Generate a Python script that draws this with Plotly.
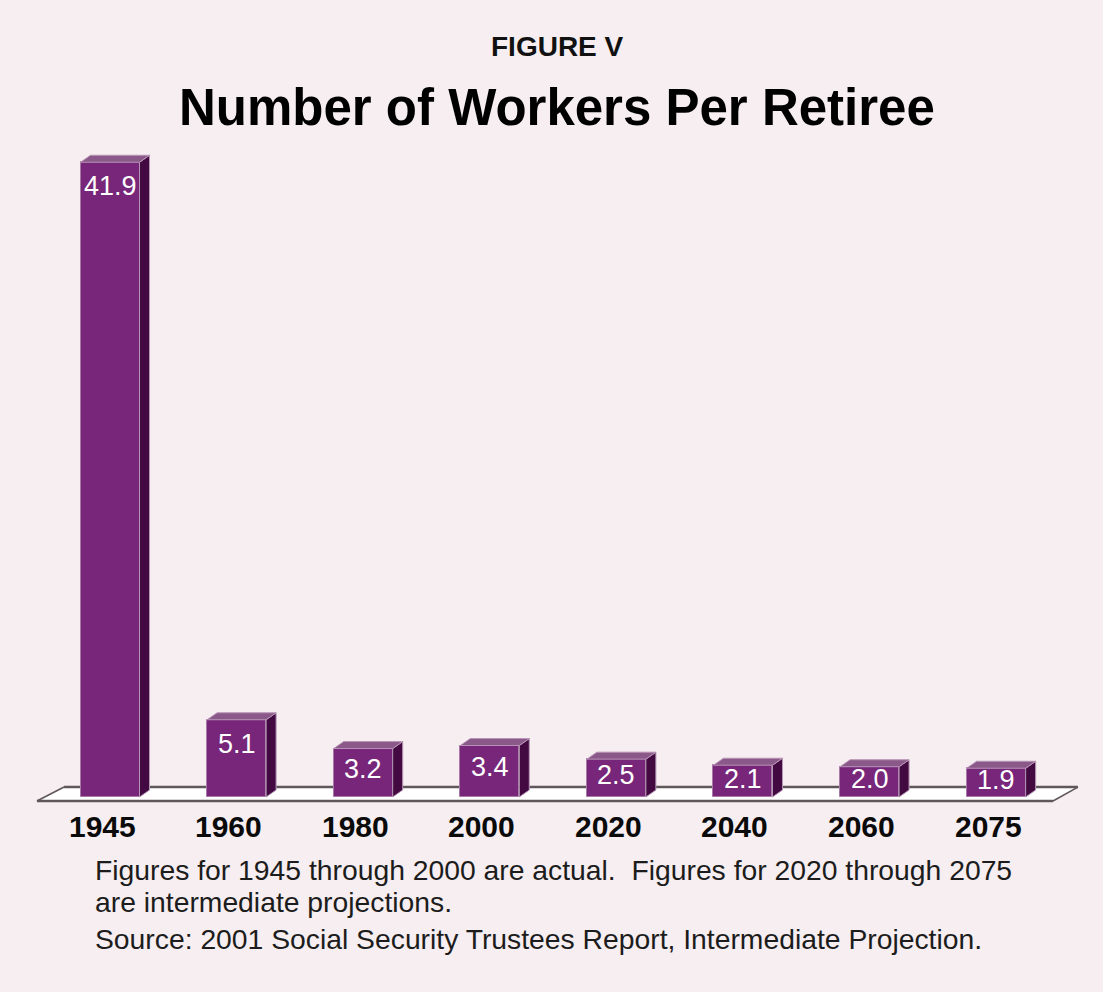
import plotly.graph_objects as go

# Workers per retiree, actual (1945-2000) and intermediate projections (2020-2075)
years = ["1945", "1960", "1980", "2000", "2020", "2040", "2060", "2075"]
workers_per_retiree = [41.9, 5.1, 3.2, 3.4, 2.5, 2.1, 2.0, 1.9]

title_text = "Number of Workers Per Retiree"
figure_label = "FIGURE V"
note_lines = [
    "Figures for 1945 through 2000 are actual.  Figures for 2020 through 2075",
    "are intermediate projections.",
    "Source: 2001 Social Security Trustees Report, Intermediate Projection.",
]

# ---- styling / geometry -------------------------------------------------
W, H = 1103, 992
BG = "#f6eef0"
FRONT = "#77267a"
FRONT_EDGE = "#a67aa5"
SIDE = "#420a41"
SIDE_EDGE = "#b697b5"
TOP = "#8a5889"
TOP_EDGE = "#b793b5"
FLOOR_LINE = "#5f575a"
FONT = "Liberation Sans, Arial, sans-serif"

X_RANGE = [-0.869, 7.844]
Y_RANGE = [-12.87, 52.61]
BAR_W = 0.466          # bar width in category units
DX, DY = 0.079, 0.46   # depth offset of the 3-D faces (x units, y units)

xs = list(range(len(years)))

fig = go.Figure()

# front faces of the bars
fig.add_trace(go.Bar(
    x=xs, y=workers_per_retiree, width=BAR_W,
    marker=dict(color=FRONT, line=dict(color=FRONT_EDGE, width=1)),
    hoverinfo="skip", showlegend=False,
))

# side and top faces, built from the same values
side_x, side_y, top_x, top_y = [], [], [], []
for x, v in zip(xs, workers_per_retiree):
    r = x + BAR_W / 2
    l = x - BAR_W / 2
    side_x += [r, r + DX, r + DX, r, r, None]
    side_y += [0, DY, v + DY, v, 0, None]
    top_x += [l, l + DX, r + DX, r, l, None]
    top_y += [v, v + DY, v + DY, v, v, None]

fig.add_trace(go.Scatter(
    x=side_x, y=side_y, mode="lines", fill="toself", fillcolor=SIDE,
    line=dict(color=SIDE_EDGE, width=1), hoverinfo="skip", showlegend=False,
))
fig.add_trace(go.Scatter(
    x=top_x, y=top_y, mode="lines", fill="toself", fillcolor=TOP,
    line=dict(color=TOP_EDGE, width=1), hoverinfo="skip", showlegend=False,
))

# floor plane under the bars
fl_front, fl_back = -0.264, 0.66
fl_lf, fl_lb, fl_rb, fl_rf = -0.577, -0.363, 7.646, 7.449
fig.add_shape(
    type="path", xref="x", yref="y", layer="below",
    path=f"M {fl_lf},{fl_front} L {fl_lb},{fl_back} L {fl_rb},{fl_back} "
         f"L {fl_rf},{fl_front} Z",
    fillcolor="white", line=dict(width=0),
)
for (x0, y0, x1, y1, w) in [
    (fl_lf, fl_front, fl_rf, fl_front, 2.5),
    (fl_lb, fl_back, fl_rb, fl_back, 2.5),
    (fl_lf, fl_front, fl_lb, fl_back, 1.5),
    (fl_rf, fl_front, fl_rb, fl_back, 1.5),
]:
    fig.add_shape(type="line", xref="x", yref="y", layer="below",
                  x0=x0, y0=y0, x1=x1, y1=y1,
                  line=dict(color=FLOOR_LINE, width=w))

annotations = []

# value labels inside the bars
for x, v in zip(xs, workers_per_retiree):
    annotations.append(dict(
        x=x, y=v - min(1.6, v * 0.42), xref="x", yref="y",
        text=f"{v:.1f}", showarrow=False, xanchor="center", yanchor="middle",
        font=dict(family=FONT, size=27, color="white"),
    ))

# category labels
for x, yr in zip(xs, years):
    annotations.append(dict(
        x=x, y=1 - 826.5 / H, xref="x", yref="paper", xshift=-8,
        text=f"<b>{yr}</b>", showarrow=False, xanchor="center", yanchor="middle",
        font=dict(family=FONT, size=30, color="#0a0a0a"),
    ))

# titles
annotations.append(dict(
    x=557 / W, y=1 - 46.5 / H, xref="paper", yref="paper",
    text=f"<b>{figure_label}</b>", showarrow=False,
    xanchor="center", yanchor="middle",
    font=dict(family=FONT, size=28, color="#111111"),
))
annotations.append(dict(
    x=556.5 / W, y=1 - 107.5 / H, xref="paper", yref="paper",
    text=f"<b>{title_text}</b>", showarrow=False,
    xanchor="center", yanchor="middle",
    font=dict(family=FONT, size=51, color="#000000"),
))

# notes below the chart
for line, cy in zip(note_lines, [870, 902, 939]):
    annotations.append(dict(
        x=93 / W, y=1 - cy / H, xref="paper", yref="paper",
        text=line, showarrow=False, xanchor="left", yanchor="middle",
        font=dict(family=FONT, size=28.3, color="#1c1c1c"),
    ))

fig.update_layout(
    width=W, height=H,
    margin=dict(l=0, r=0, t=0, b=0),
    paper_bgcolor=BG, plot_bgcolor=BG,
    showlegend=False,
    bargap=0,
    annotations=annotations,
    xaxis=dict(range=X_RANGE, visible=False, fixedrange=True),
    yaxis=dict(range=Y_RANGE, visible=False, fixedrange=True),
)

fig.write_html("out.html")
